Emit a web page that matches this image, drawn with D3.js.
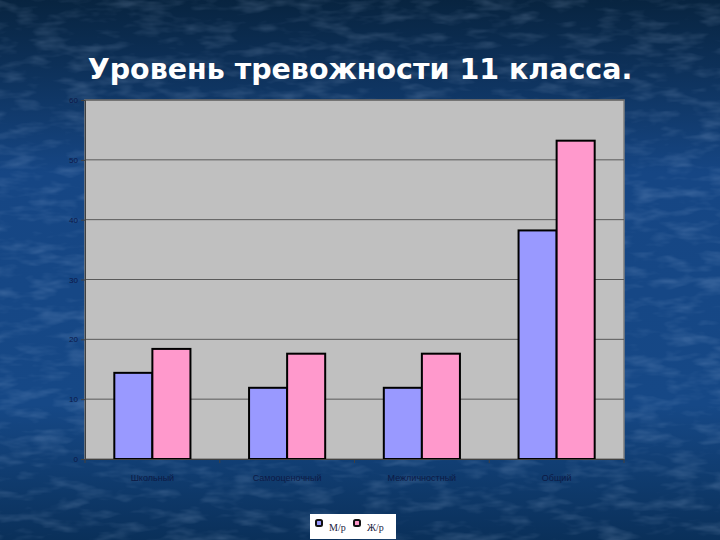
<!DOCTYPE html>
<html><head><meta charset="utf-8">
<script src="https://cdn.jsdelivr.net/npm/d3@7"></script>
<style>html,body{margin:0;padding:0;background:#123e72;}svg{display:block;}</style>
</head><body>
<script>
const categories = ["Школьный", "Самооценочный", "Межличностный", "Общий"];
const seriesNames = ["М/р", "Ж/р"];
const maleValues = [14.4, 11.9, 11.9, 38.2];
const femaleValues = [18.4, 17.6, 17.6, 53.2];
const yTicks = [0, 10, 20, 30, 40, 50, 60];
const title = "Уровень тревожности 11 класса.";
const colors = ["#9999ff", "#ff99cc"];

(function(){
const W = 720, H = 540;
const svg = d3.select("body").append("svg").attr("width", W).attr("height", H);
const defs = svg.append("defs");
const bg = defs.append("linearGradient").attr("id","bg").attr("x1",0).attr("y1",0).attr("x2",0).attr("y2",1);
bg.append("stop").attr("offset","0").attr("stop-color","#082440");
bg.append("stop").attr("offset","0.12").attr("stop-color","#0d3058");
bg.append("stop").attr("offset","0.32").attr("stop-color","#164684");
bg.append("stop").attr("offset","0.75").attr("stop-color","#164886");
bg.append("stop").attr("offset","0.92").attr("stop-color","#0e3868");
bg.append("stop").attr("offset","1").attr("stop-color","#0a305a");
const f = defs.append("filter").attr("id","noise").attr("x",0).attr("y",0).attr("width","100%").attr("height","100%");
f.append("feTurbulence").attr("type","fractalNoise").attr("baseFrequency","0.03 0.09").attr("numOctaves",3).attr("seed",7).attr("result","n");
f.append("feColorMatrix").attr("in","n").attr("type","matrix")
  .attr("values","0 0 0 0 0.55  0 0 0 0 0.7  0 0 0 0 0.95  0 0 0 -2.5 1.35");
svg.append("rect").attr("width",W).attr("height",H).attr("fill","url(#bg)");
svg.append("rect").attr("width",W).attr("height",H).attr("filter","url(#noise)").attr("opacity",0.16);

svg.append("text").attr("x",360).attr("y",79).attr("text-anchor","middle")
  .attr("font-family","DejaVu Sans, Verdana, sans-serif").attr("font-weight","bold")
  .attr("font-size",28.5).attr("fill","#ffffff").text(title);

const pl = 85, pr = 624, pt = 100, pb = 459;
const x0 = d3.scaleBand().domain(categories).range([pl, pr]).paddingInner(0).paddingOuter(0);
const x1 = d3.scaleBand().domain(seriesNames).range([0, x0.bandwidth()]).paddingOuter(0.77).paddingInner(0);
const y = d3.scaleLinear().domain([0, 60]).range([pb, pt]);

svg.append("rect").attr("x",pl).attr("y",pt).attr("width",pr-pl).attr("height",pb-pt)
  .attr("fill","#c0c0c0").attr("stroke","#808080").attr("stroke-width",1.5);

svg.append("g").selectAll("line").data(yTicks.filter(t=>t>0)).join("line")
  .attr("x1",pl).attr("x2",pr).attr("y1",d=>y(d)).attr("y2",d=>y(d))
  .attr("stroke","#5a5a5a").attr("stroke-width",1);

const yAxis = svg.append("g").attr("transform",`translate(${pl},0)`)
  .call(d3.axisLeft(y).tickValues(yTicks).tickSize(4).tickPadding(3));
yAxis.select(".domain").attr("stroke","#404040");
yAxis.selectAll(".tick line").attr("stroke","#404040");
yAxis.selectAll("text").attr("fill","#0c1848").attr("font-size",8).attr("font-family","Liberation Sans, Arial, sans-serif");

const data = categories.map((c,i)=>({cat:c, vals:[maleValues[i], femaleValues[i]]}));
const groups = svg.append("g").selectAll("g").data(data).join("g")
  .attr("transform",d=>`translate(${x0(d.cat)},0)`);
groups.selectAll("rect").data(d=>d.vals.map((v,j)=>({name:seriesNames[j], v, j}))).join("rect")
  .attr("x",d=>x1(d.name)).attr("width",x1.bandwidth())
  .attr("y",d=>y(d.v)).attr("height",d=>pb-y(d.v))
  .attr("fill",d=>colors[d.j]).attr("stroke","#000").attr("stroke-width",2);

const xAxis = svg.append("g").attr("transform",`translate(0,${pb})`)
  .call(d3.axisBottom(x0).tickSize(0).tickPadding(16));
xAxis.select(".domain").attr("stroke","#404040");
xAxis.selectAll("text").attr("fill","#0c1a46").attr("font-size",9).attr("font-family","Liberation Sans, Arial, sans-serif");
const bounds = categories.map(c=>x0(c)).concat([pr]);
svg.append("g").selectAll("line").data(bounds).join("line")
  .attr("x1",d=>d).attr("x2",d=>d).attr("y1",pb).attr("y2",pb+4).attr("stroke","#404040");

const lg = svg.append("g").attr("transform","translate(310,514)");
lg.append("rect").attr("width",86).attr("height",25).attr("fill","#ffffff");
seriesNames.forEach((n,i)=>{
  const gx = 6 + i*38;
  lg.append("rect").attr("x",gx).attr("y",6).attr("width",6).attr("height",6).attr("rx",1.5)
    .attr("fill",colors[i]).attr("stroke","#111").attr("stroke-width",2);
  lg.append("text").attr("x",gx+13).attr("y",17).attr("font-family","Liberation Serif, Times New Roman, serif")
    .attr("font-size",10).attr("fill","#1a1a40").text(n);
});
})();
</script>
</body></html>
